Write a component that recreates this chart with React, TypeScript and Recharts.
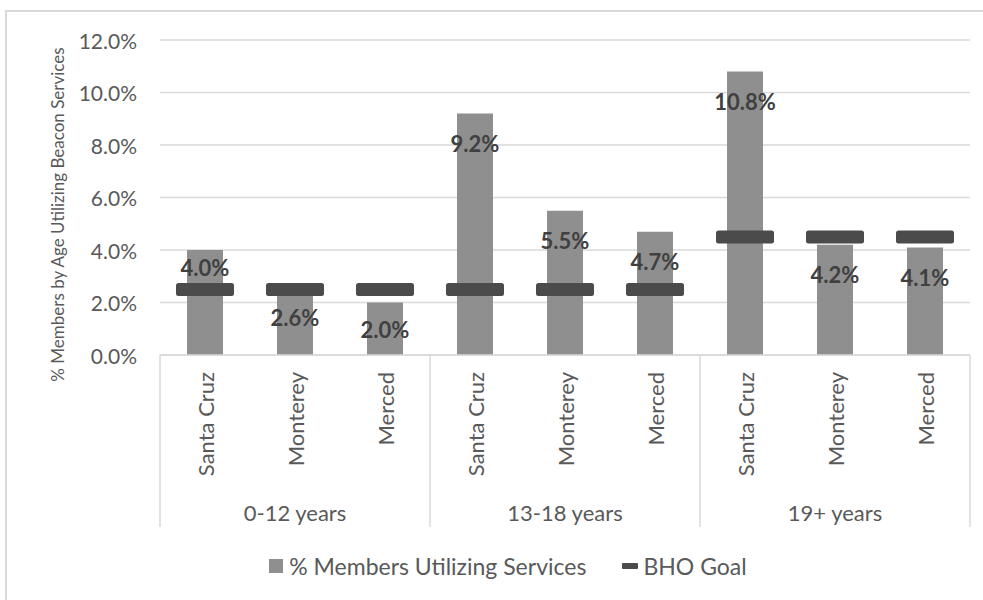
import React from 'react';
import {
  ComposedChart,
  Bar,
  Line,
  XAxis,
  YAxis,
  CartesianGrid,
  LabelList,
  Legend,
} from 'recharts';

// County per bar, in plotting order
const counties = [
  'Santa Cruz', 'Monterey', 'Merced',
  'Santa Cruz', 'Monterey', 'Merced',
  'Santa Cruz', 'Monterey', 'Merced',
];

// Age band each bar belongs to
const ageGroups = [
  '0-12 years', '0-12 years', '0-12 years',
  '13-18 years', '13-18 years', '13-18 years',
  '19+ years', '19+ years', '19+ years',
];

// % of members utilizing services
const utilization = [4.0, 2.6, 2.0, 9.2, 5.5, 4.7, 10.8, 4.2, 4.1];

// BHO goal (%)
const bhoGoal = [2.5, 2.5, 2.5, 2.5, 2.5, 2.5, 4.5, 4.5, 4.5];

const yTicks = [0, 2, 4, 6, 8, 10, 12];

const data = counties.map((county, i) => ({
  county,
  group: ageGroups[i],
  utilization: utilization[i],
  goal: bhoGoal[i],
}));

// Layout / styling
const WIDTH = 983;
const HEIGHT = 600;
const FONT = 'Lato, "Open Sans", sans-serif';
const TEXT = '#595959';
const GRID = '#d9d9d9';
const BAR_FILL = '#8f8f8f';
const GOAL_FILL = '#4b4b4b';
const LABEL_FILL = '#404040';
const SEPARATOR_LENGTH = 172;
// distance of each value label below its bar's top edge
const labelDrop = [17, 31, 27, 30, 30, 30, 30, 30, 30];

const YTick = (props: any) => {
  const { x, y, payload } = props;
  return (
    <text
      x={x}
      y={y}
      textAnchor="end"
      dominantBaseline="central"
      fill={TEXT}
      fontSize={21}
      fontFamily={FONT}
    >
      {`${Number(payload.value).toFixed(1)}%`}
    </text>
  );
};

const CountyTick = (props: any) => {
  const { x, y, payload, index } = props;
  const half = payload.offset || 45;
  const ty = y + 17;
  return (
    <g>
      {index % 3 === 0 && (
        <line x1={x - half} x2={x - half} y1={y} y2={y + SEPARATOR_LENGTH} stroke={GRID} strokeWidth={1.5} />
      )}
      {index === counties.length - 1 && (
        <line x1={x + half} x2={x + half} y1={y} y2={y + SEPARATOR_LENGTH} stroke={GRID} strokeWidth={1.5} />
      )}
      <text
        x={x}
        y={ty}
        transform={`rotate(-90, ${x}, ${ty})`}
        textAnchor="end"
        dominantBaseline="central"
        fill={TEXT}
        fontSize={22}
        fontFamily={FONT}
      >
        {payload.value}
      </text>
    </g>
  );
};

const GroupTick = (props: any) => {
  const { x, y, payload } = props;
  return (
    <text
      x={x}
      y={y + 27}
      textAnchor="middle"
      dominantBaseline="central"
      fill={TEXT}
      fontSize={22}
      fontFamily={FONT}
    >
      {payload.value}
    </text>
  );
};

const GoalMarker = (props: any) => {
  const { cx, cy } = props;
  if (cx == null || cy == null) return null;
  return <rect x={cx - 29} y={cy - 6.5} width={58} height={13} rx={2.5} fill={GOAL_FILL} />;
};

const ValueLabel = (props: any) => {
  const { x, y, width, value, index } = props;
  return (
    <text
      x={x + width / 2}
      y={y + labelDrop[index]}
      textAnchor="middle"
      dominantBaseline="central"
      fill={LABEL_FILL}
      fontSize={22}
      fontWeight="bold"
      fontFamily={FONT}
    >
      {`${Number(value).toFixed(1)}%`}
    </text>
  );
};

const AxisTitle = (props: any) => {
  const { viewBox } = props;
  const x = viewBox.x + 37;
  const y = viewBox.y + viewBox.height / 2 + 17;
  return (
    <text
      x={x}
      y={y}
      transform={`rotate(-90, ${x}, ${y})`}
      textAnchor="middle"
      dominantBaseline="central"
      fill={TEXT}
      fontSize={17}
      fontFamily={FONT}
    >
      % Members by Age Utilizing Beacon Services
    </text>
  );
};

const LegendContent = () => (
  <div
    style={{
      display: 'flex',
      justifyContent: 'center',
      alignItems: 'center',
      fontFamily: FONT,
      fontSize: 23,
      color: TEXT,
      gap: 36,
    }}
  >
    <div style={{ display: 'flex', alignItems: 'center' }}>
      <span style={{ display: 'inline-block', width: 14, height: 14, background: BAR_FILL, marginRight: 6 }} />
      <span>% Members Utilizing Services</span>
    </div>
    <div style={{ display: 'flex', alignItems: 'center' }}>
      <span style={{ display: 'inline-block', width: 16, height: 6, background: GOAL_FILL, borderRadius: 1, marginRight: 5 }} />
      <span>BHO Goal</span>
    </div>
  </div>
);

export default function App() {
  return (
    <div style={{ position: 'absolute', left: 0, top: 0, width: WIDTH, height: HEIGHT, overflow: 'hidden', background: '#fff' }}>
      <div
        style={{
          position: 'absolute',
          left: 5,
          top: 10,
          width: 1100,
          height: 800,
          borderLeft: `2px solid ${GRID}`,
          borderTop: `2px solid ${GRID}`,
        }}
      />
      <div style={{ position: 'absolute', left: 0, top: 0 }}>
        <ComposedChart
          width={WIDTH}
          height={HEIGHT}
          data={data}
          margin={{ top: 40, right: 13, bottom: 70, left: 20 }}
          barCategoryGap={0}
        >
          <CartesianGrid vertical={false} stroke={GRID} strokeWidth={1.5} />
          <XAxis
            dataKey="county"
            interval={0}
            height={130}
            tickSize={0}
            tickMargin={0}
            tickLine={false}
            axisLine={{ stroke: GRID, strokeWidth: 1.5 }}
            tick={<CountyTick />}
          />
          <XAxis
            xAxisId="age"
            dataKey="group"
            allowDuplicatedCategory={false}
            interval={0}
            height={45}
            tickSize={0}
            tickMargin={0}
            tickLine={false}
            axisLine={false}
            tick={<GroupTick />}
          />
          <YAxis
            width={140}
            domain={[0, 12]}
            ticks={yTicks}
            tickSize={0}
            tickMargin={23}
            tickLine={false}
            axisLine={false}
            tick={<YTick />}
            label={<AxisTitle />}
          />
          <Bar dataKey="utilization" fill={BAR_FILL} barSize={36} isAnimationActive={false}>
            <LabelList dataKey="utilization" content={<ValueLabel />} />
          </Bar>
          <Line
            dataKey="goal"
            stroke="transparent"
            strokeWidth={0}
            dot={<GoalMarker />}
            activeDot={false}
            isAnimationActive={false}
          />
          <Legend
            verticalAlign="middle"
            align="center"
            wrapperStyle={{ left: 5, top: 552, width: 1006 }}
            content={<LegendContent />}
          />
        </ComposedChart>
      </div>
    </div>
  );
}
